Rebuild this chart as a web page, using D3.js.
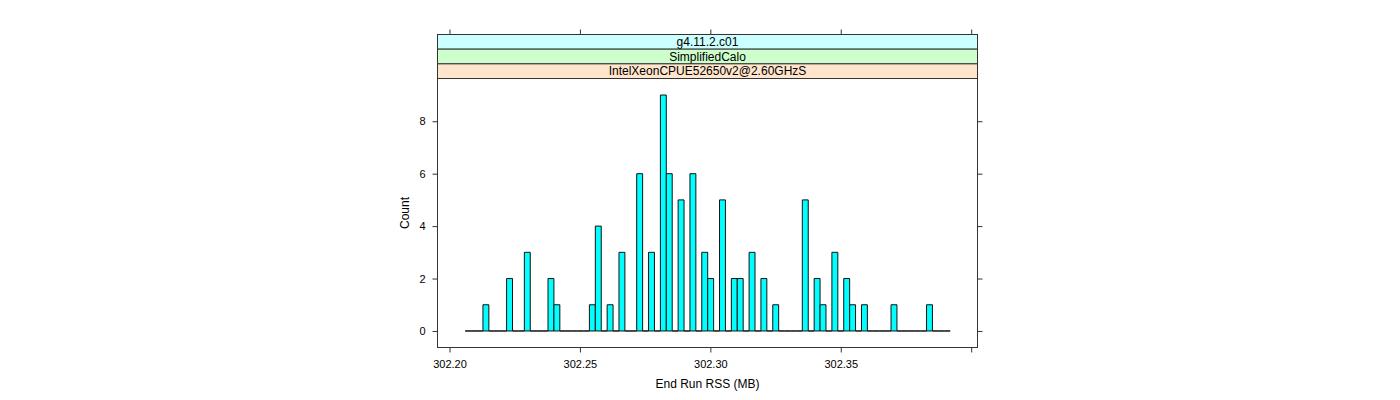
<!DOCTYPE html>
<html><head><meta charset="utf-8">
<script src="https://cdn.jsdelivr.net/npm/d3@7"></script>
<style>
body{margin:0;background:#fff}
svg{display:block}
text{font-family:"Liberation Sans",Arial,Helvetica,sans-serif;fill:#000}
</style>
</head><body>
<svg id="chart" width="1400" height="400"></svg>
<script>
// ---- data ----
const binStart = 302.20602;   // left edge of first histogram bin (MB)
const binEnd = 302.39195;     // right edge of last histogram bin (MB)
const counts = [
  0,0,0,1,0,0,0,2,0,0,
  3,0,0,0,2,1,0,0,0,0,
  0,1,4,0,1,0,3,0,0,6,
  0,3,0,9,6,0,5,0,6,0,
  3,2,0,5,0,2,2,0,3,0,
  2,0,1,0,0,0,0,5,0,2,
  1,0,3,0,2,1,0,1,0,0,
  0,0,1,0,0,0,0,0,1,0,
  0,0
];
const xTicks = [302.20, 302.25, 302.30, 302.35, 302.40];
const xTickLabels = ["302.20", "302.25", "302.30", "302.35", ""];
const yTicks = [0, 2, 4, 6, 8];
const stripLabels = ["g4.11.2.c01", "SimplifiedCalo", "IntelXeonCPUE52650v2@2.60GHzS"];
const xTitle = "End Run RSS (MB)";
const yTitle = "Count";
const xDomain = [302.19540, 302.40242];
const yDomain = [-0.63, 9.63];

// ---- styles / layout ----
const stripFill = ["#ccffff", "#ccffcc", "#ffe5cc"];
const L = 437.5, R = 977.5, T = 78.5, B = 347.5;
const stripTop = 34.5, stripH = 14.67;
const lineCol = "#333";

const svg = d3.select("#chart");
const x = d3.scaleLinear().domain(xDomain).range([L, R]);
const y = d3.scaleLinear().domain(yDomain).range([B, T]);

// bars
const nb = counts.length;
const bw = (binEnd - binStart) / nb;
const bins = counts.map((c, i) => ({lo: binStart + i * bw, hi: binStart + (i + 1) * bw, c}));
svg.append("g").selectAll("path").data(bins).join("path")
  .attr("d", d => {
    const x0 = x(d.lo), x1 = x(d.hi), y0 = y(0), y1 = y(d.c);
    return `M${x0},${y0}L${x0},${y1}L${x1},${y1}L${x1},${y0}Z`;
  })
  .attr("fill", "#00ffff")
  .attr("stroke", "#111")
  .attr("stroke-width", 1);

// strips
stripLabels.forEach((lab, i) => {
  const y0 = stripTop + i * stripH;
  svg.append("rect").attr("x", L).attr("y", y0).attr("width", R - L).attr("height", stripH)
    .attr("fill", stripFill[i]).attr("stroke", lineCol).attr("stroke-width", 1);
  svg.append("text").attr("x", (L + R) / 2).attr("y", y0 + stripH / 2 + 4.2)
    .attr("text-anchor", "middle").style("font-size", "12px").text(lab);
});

// panel box
svg.append("rect").attr("x", L).attr("y", T).attr("width", R - L).attr("height", B - T)
  .attr("fill", "none").attr("stroke", lineCol).attr("stroke-width", 1);

// axes
const styleAxis = g => {
  g.select(".domain").remove();
  g.selectAll(".tick line").attr("stroke", lineCol);
  g.selectAll("text").style("font-size", "11px").attr("fill", "#000");
};
svg.append("g").attr("transform", `translate(${L},0)`)
  .call(d3.axisLeft(y).tickValues(yTicks).tickSize(5).tickPadding(7).tickFormat(d3.format("d")))
  .call(styleAxis);
svg.append("g").attr("transform", `translate(${R},0)`)
  .call(d3.axisRight(y).tickValues(yTicks).tickSize(5).tickFormat(""))
  .call(styleAxis);
svg.append("g").attr("transform", `translate(0,${B})`)
  .call(d3.axisBottom(x).tickValues(xTicks).tickSize(5).tickPadding(8).tickFormat((d, i) => xTickLabels[i]))
  .call(styleAxis);
svg.append("g").attr("transform", `translate(0,${stripTop})`)
  .call(d3.axisTop(x).tickValues(xTicks).tickSize(5).tickFormat(""))
  .call(styleAxis);

// titles
svg.append("text").attr("x", (L + R) / 2).attr("y", 388).attr("text-anchor", "middle")
  .style("font-size", "12px").text(xTitle);
svg.append("text").attr("transform", `translate(408.5,${(T + B) / 2}) rotate(-90)`)
  .attr("text-anchor", "middle").style("font-size", "12px").text(yTitle);
</script>
</body></html>
